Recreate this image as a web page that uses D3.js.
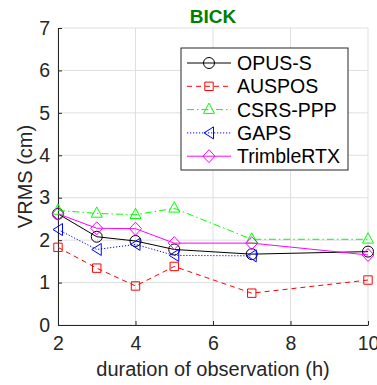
<!DOCTYPE html>
<html><head><meta charset="utf-8">
<script src="https://cdn.jsdelivr.net/npm/d3@7"></script>
<style>body{margin:0;background:#fff}svg{display:block;font-family:"Liberation Sans",Arial,sans-serif}</style>
</head><body><svg id="c" width="377" height="385"></svg>
<script>
const title = "BICK";
const xLabel = "duration of observation (h)";
const yLabel = "VRMS (cm)";
const xTicks = [2,4,6,8,10];
const yTicks = [0,1,2,3,4,5,6,7];
const seriesNames = ["OPUS-S","AUSPOS","CSRS-PPP","GAPS","TrimbleRTX"];
const hours = [2,3,4,5,7,10];
const opusS = [2.62,2.08,1.98,1.78,1.67,1.73];
const auspos = [1.83,1.34,0.92,1.38,0.75,1.06];
const csrsPPP = [2.70,2.63,2.60,2.75,2.02,2.02];
const gapsHours = [2,3,4,5,7];
const gaps = [2.25,1.78,1.90,1.64,1.63];
const trimbleRTX = [2.62,2.28,2.27,1.93,1.93,1.65];

const svg = d3.select("#c");
const L=58,R=368,T=28,B=325;
const x = d3.scaleLinear().domain([2,10]).range([L,R]);
const y = d3.scaleLinear().domain([0,7]).range([B,T]);
const FONT = "Liberation Sans, Arial, sans-serif";

// grid
const g = svg.append("g");
g.selectAll("line.gx").data(xTicks).join("line").attr("x1",d=>x(d)).attr("x2",d=>x(d)).attr("y1",T).attr("y2",B).attr("stroke","#dfdfdf").attr("stroke-width",1);
g.selectAll("line.gy").data(yTicks).join("line").attr("y1",d=>y(d)).attr("y2",d=>y(d)).attr("x1",L).attr("x2",R).attr("stroke","#dfdfdf").attr("stroke-width",1);

// axes
const ax = svg.append("g").attr("transform",`translate(0,${B})`).call(d3.axisBottom(x).tickValues(xTicks).tickFormat(d3.format("d")).tickSizeInner(-4).tickSizeOuter(0).tickPadding(11));
const ay = svg.append("g").attr("transform",`translate(${L},0)`).call(d3.axisLeft(y).tickValues(yTicks).tickFormat(d3.format("d")).tickSizeInner(-4).tickSizeOuter(0).tickPadding(8));
[ax,ay].forEach(a=>{a.attr("font-size",19.5).attr("font-family",FONT);a.select(".domain").attr("stroke","#262626");a.selectAll(".tick line").attr("stroke","#262626");a.selectAll("text").attr("fill","#262626");});

// labels
svg.append("text").attr("x",213).attr("y",23).attr("text-anchor","middle").attr("font-weight","bold").attr("font-size",19).attr("fill","#008000").text(title);
svg.append("text").attr("x",213).attr("y",376).attr("text-anchor","middle").attr("font-size",20).attr("fill","#262626").text(xLabel);
svg.append("text").attr("transform",`translate(32,${(T+B)/2}) rotate(-90)`).attr("text-anchor","middle").attr("font-size",20).attr("fill","#262626").text(yLabel);

const styles = [
 {name:seriesNames[0],xs:hours,ys:opusS,color:"#000000",dash:null,marker:"circle"},
 {name:seriesNames[1],xs:hours,ys:auspos,color:"#ff0000",dash:"5,4",marker:"square"},
 {name:seriesNames[2],xs:hours,ys:csrsPPP,color:"#00ff00",dash:"7,3,1.5,3",marker:"triangle"},
 {name:seriesNames[3],xs:gapsHours,ys:gaps,color:"#0000ff",dash:"1.2,1.8",marker:"left"},
 {name:seriesNames[4],xs:hours,ys:trimbleRTX,color:"#ff00ff",dash:null,marker:"diamond"}
];
function markerPath(m){
  if(m==="circle") return d3.symbol(d3.symbolCircle,95)();
  if(m==="square") return "M-4.2,-4.2L4.2,-4.2L4.2,4.2L-4.2,4.2Z";
  if(m==="triangle") return "M0,-6.5L5.5,3.8L-5.5,3.8Z";
  if(m==="left") return "M-5,0L4.5,-6L4.5,6Z";
  if(m==="diamond") return "M0,-6.5L6,0L0,6.5L-6,0Z";
}
const line = d3.line();
styles.forEach(s=>{
  const pts = s.xs.map((h,i)=>[x(h),y(s.ys[i])]);
  svg.append("path").attr("d",line(pts)).attr("fill","none").attr("stroke",s.color).attr("stroke-width",1).attr("stroke-dasharray",s.dash);
  svg.selectAll(null).data(pts).join("path").attr("transform",d=>`translate(${d[0]},${d[1]})`).attr("d",markerPath(s.marker)).attr("fill","none").attr("stroke",s.color).attr("stroke-width",1);
});

// legend
const lg = svg.append("g");
lg.append("rect").attr("x",181).attr("y",48).attr("width",167).attr("height",122).attr("fill","#fff").attr("stroke","#262626").attr("stroke-width",1);
styles.forEach((s,i)=>{
  const yy = 63 + i*23.3;
  lg.append("line").attr("x1",187).attr("x2",231).attr("y1",yy).attr("y2",yy).attr("stroke",s.color).attr("stroke-width",1).attr("stroke-dasharray",s.dash);
  lg.append("path").attr("transform",`translate(209,${yy})`).attr("d",markerPath(s.marker)).attr("fill","none").attr("stroke",s.color);
  lg.append("text").attr("x",237).attr("y",yy+7).attr("font-size",19.5).attr("fill","#000").text(s.name);
});
</script></body></html>
